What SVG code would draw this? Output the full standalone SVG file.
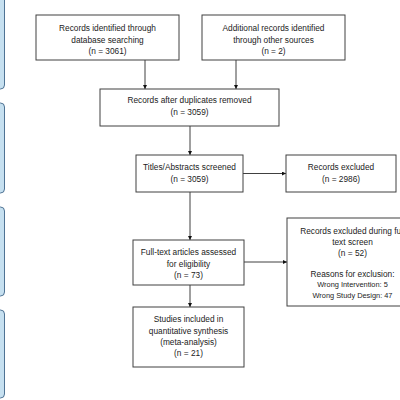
<svg xmlns="http://www.w3.org/2000/svg" width="400" height="400" viewBox="0 0 400 400">
<defs>
<style>
.box{fill:#fff;stroke:#404040;stroke-width:1}
.side{fill:#c6e0f0;stroke:#4f7394;stroke-width:1}
.t{font-family:"Liberation Sans",Arial,sans-serif;font-size:8.3px;fill:#222;text-anchor:middle}
.s{font-size:7.4px}
.c{stroke:#404040;stroke-width:1;fill:none;marker-end:url(#ah)}
</style>
<marker id="ah" viewBox="0 0 10 10" refX="10" refY="5" markerWidth="4" markerHeight="4" orient="auto" markerUnits="userSpaceOnUse">
<path d="M0,0 L10,5 L0,10 z" fill="#111"/>
</marker>
</defs>
<rect width="400" height="400" fill="#fff"/>
<g id="side-bars">
<rect class="side" x="-20" y="-6" width="24.5" height="95" rx="4"/>
<rect class="side" x="-20" y="103" width="24.5" height="90" rx="4"/>
<rect class="side" x="-20" y="207" width="24.5" height="89" rx="4"/>
<rect class="side" x="-20" y="310" width="24.5" height="88" rx="4"/>
</g>
<g id="connectors">
<line class="c" x1="145" y1="60" x2="145" y2="89"/>
<line class="c" x1="236" y1="60" x2="236" y2="89"/>
<line class="c" x1="190" y1="126" x2="190" y2="155"/>
<line class="c" x1="190" y1="192" x2="190" y2="240"/>
<line class="c" x1="190" y1="285" x2="190" y2="307"/>
<line class="c" x1="243" y1="173.5" x2="286" y2="173.5"/>
<line class="c" x1="244" y1="262" x2="287" y2="262"/>
</g>
<g id="n1">
<rect class="box" x="36" y="15" width="143" height="45"/>
<text class="t" x="107.5" y="31">Records identified through</text>
<text class="t" x="107.5" y="42.5">database searching</text>
<text class="t" x="107.5" y="54">(n = 3061)</text>
</g>
<g id="n2">
<rect class="box" x="202" y="15" width="143" height="45"/>
<text class="t" x="273.5" y="31">Additional records identified</text>
<text class="t" x="273.5" y="42.5">through other sources</text>
<text class="t" x="273.5" y="54">(n = 2)</text>
</g>
<g id="n3">
<rect class="box" x="100" y="89" width="179" height="37"/>
<text class="t" x="189.5" y="103">Records after duplicates removed</text>
<text class="t" x="189.5" y="115">(n = 3059)</text>
</g>
<g id="n4">
<rect class="box" x="136" y="155" width="107" height="37"/>
<text class="t" x="189.5" y="170">Titles/Abstracts screened</text>
<text class="t" x="189.5" y="181.5">(n = 3059)</text>
</g>
<g id="n5">
<rect class="box" x="286" y="155" width="110" height="37"/>
<text class="t" x="341" y="170">Records excluded</text>
<text class="t" x="341" y="181.5">(n = 2986)</text>
</g>
<g id="n6">
<rect class="box" x="133" y="240" width="111" height="45"/>
<text class="t" x="188.5" y="255">Full-text articles assessed</text>
<text class="t" x="188.5" y="266.5">for eligibility</text>
<text class="t" x="188.5" y="277.5">(n = 73)</text>
</g>
<g id="n7">
<rect class="box" x="133" y="307" width="111" height="60"/>
<text class="t" x="188.5" y="322">Studies included in</text>
<text class="t" x="188.5" y="333.5">quantitative synthesis</text>
<text class="t" x="188.5" y="344.5">(meta-analysis)</text>
<text class="t" x="188.5" y="355.5">(n = 21)</text>
</g>
<g id="n8">
<rect class="box" x="287" y="218" width="131" height="88"/>
<text class="t" x="352.5" y="234">Records excluded during full</text>
<text class="t" x="352.5" y="245">text screen</text>
<text class="t" x="352.5" y="256">(n = 52)</text>
<text class="t" x="352.5" y="277">Reasons for exclusion:</text>
<text class="t s" x="352.5" y="287">Wrong Intervention: 5</text>
<text class="t s" x="352.5" y="297.5">Wrong Study Design: 47</text>
</g>
</svg>
